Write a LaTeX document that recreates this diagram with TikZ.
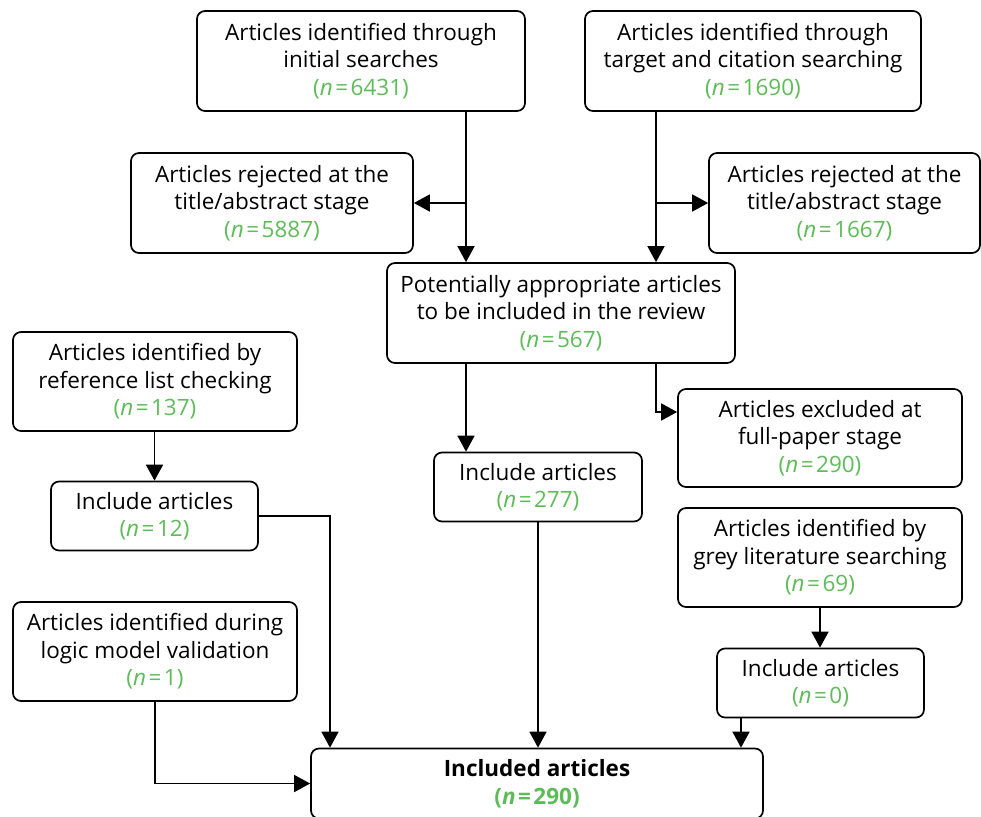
\documentclass[tikz,border=0pt]{standalone}
\usepackage{fontspec}
\setmainfont{Open Sans}
\usetikzlibrary{arrows.meta}
\definecolor{grn}{RGB}{93,188,88}
\newcommand{\nn}[1]{{\color{grn}(\textit{n}\kern2.5pt=\kern2.5pt#1)}}
\newcommand{\nnb}[1]{{\color{grn}\bfseries(\textit{n}\kern2.5pt=\kern2.5pt#1)}}
\tikzset{
  box/.style={draw=black, line width=1.7pt, rounded corners=8pt, align=center, inner sep=0pt,
    font=\fontsize{22.5}{27.5}\selectfont, text=black},
  arr/.style={line width=1.7pt, -{Triangle[length=16pt,width=17pt]}},
}
\begin{document}
\begin{tikzpicture}[x=1pt,y=-1pt]
\useasboundingbox (0,0) rectangle (981,816);
\node[box, minimum width=328pt, minimum height=100pt] (A) at (361,61) {Articles identified through\\initial searches\\\nn{6431}};
\node[box, minimum width=336pt, minimum height=100pt] (B) at (753,61) {Articles identified through\\target and citation searching\\\nn{1690}};
\node[box, minimum width=282pt, minimum height=100pt] (C) at (272,203) {Articles rejected at the\\title/abstract stage\\\nn{5887}};
\node[box, minimum width=271pt, minimum height=100pt] (D) at (844.5,203) {Articles rejected at the\\title/abstract stage\\\nn{1667}};
\node[box, minimum width=348pt, minimum height=100pt] (E) at (561,313) {Potentially appropriate articles\\to be included in the review\\\nn{567}};
\node[box, minimum width=284pt, minimum height=99pt] (F) at (155,381.5) {Articles identified by\\reference list checking\\\nn{137}};
\node[box, minimum width=207pt, minimum height=69pt] (G) at (154.5,516) {Include articles\\\nn{12}};
\node[box, minimum width=208pt, minimum height=69pt] (H) at (538,487) {Include articles\\\nn{277}};
\node[box, minimum width=284pt, minimum height=98pt] (I) at (820,438) {Articles excluded at\\full-paper stage\\\nn{290}};
\node[box, minimum width=284pt, minimum height=99pt] (J) at (820,557.5) {Articles identified by\\grey literature searching\\\nn{69}};
\node[box, minimum width=207pt, minimum height=69pt] (K) at (820.5,683) {Include articles\\\nn{0}};
\node[box, minimum width=284pt, minimum height=99pt] (L) at (155,651.5) {Articles identified during\\logic model validation\\\nn{1}};
\node[box, minimum width=452pt, minimum height=70pt] (M) at (537,783.5) {\bfseries Included articles\\\nnb{290}};
\coordinate (xa) at (466,0);
\coordinate (xb) at (656,0);
\coordinate (xg) at (330,0);
\coordinate (xk) at (741,0);
\coordinate (yi) at (0,412);
\draw[arr] (A.south -| xa) -- (E.north -| xa);
\draw[arr] (xa |- C.east) -- (C.east);
\draw[arr] (B.south -| xb) -- (E.north -| xb);
\draw[arr] (xb |- D.west) -- (D.west);
\draw[arr] (E.south -| xa) -- (H.north -| xa);
\draw[arr] (E.south -| xb) -- (xb |- yi) -- (I.west |- yi);
\draw[arr] (F.south -| G.north) -- (G.north);
\draw[arr] (G.east) -| (M.north -| xg);
\draw[arr] (H.south) -- (M.north -| H.south);
\draw[arr] (J.south) -- (K.north -| J.south);
\draw[arr] (K.south -| xk) -- (M.north -| xk);
\draw[arr] (L.south) |- (M.west);
\end{tikzpicture}
\end{document}
